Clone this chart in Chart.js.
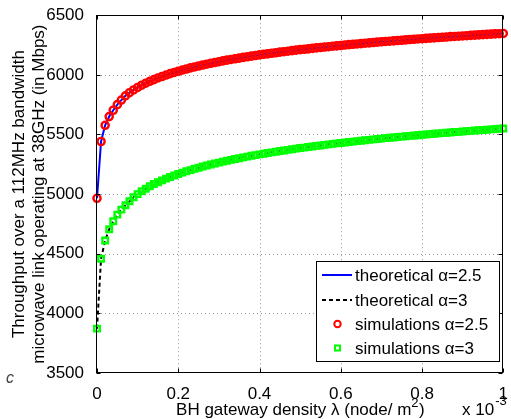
<!DOCTYPE html>
<html><head><meta charset="utf-8">
<script src="https://cdn.jsdelivr.net/npm/chart.js@4/dist/chart.umd.min.js"></script>
<style>html,body{margin:0;padding:0;background:#fff;}</style>
</head><body>
<canvas id="c" width="511" height="419"></canvas>
<script>
// BH gateway density lambda, in units of 1e-3 node/m^2
const lambdaE3 = [
  0.00,0.01,0.02,0.03,0.04,0.05,0.06,0.07,0.08,0.09,
  0.10,0.11,0.12,0.13,0.14,0.15,0.16,0.17,0.18,0.19,
  0.20,0.21,0.22,0.23,0.24,0.25,0.26,0.27,0.28,0.29,
  0.30,0.31,0.32,0.33,0.34,0.35,0.36,0.37,0.38,0.39,
  0.40,0.41,0.42,0.43,0.44,0.45,0.46,0.47,0.48,0.49,
  0.50,0.51,0.52,0.53,0.54,0.55,0.56,0.57,0.58,0.59,
  0.60,0.61,0.62,0.63,0.64,0.65,0.66,0.67,0.68,0.69,
  0.70,0.71,0.72,0.73,0.74,0.75,0.76,0.77,0.78,0.79,
  0.80,0.81,0.82,0.83,0.84,0.85,0.86,0.87,0.88,0.89,
  0.90,0.91,0.92,0.93,0.94,0.95,0.96,0.97,0.98,0.99,
  1.00
];
// throughput (Mbps), alpha = 2.5
const throughputA25 = [
  4965,5441,5577,5650,5703,5750,5788,5824,5850,5873,
  5894,5913,5930,5946,5960,5974,5986,5998,6010,6020,
  6030,6040,6049,6058,6066,6074,6082,6089,6097,6103,
  6110,6117,6123,6129,6135,6140,6146,6151,6157,6162,
  6167,6172,6176,6181,6185,6190,6194,6198,6203,6207,
  6211,6214,6218,6222,6226,6229,6233,6236,6240,6243,
  6246,6250,6253,6256,6259,6262,6265,6268,6271,6274,
  6277,6280,6282,6285,6288,6290,6293,6296,6298,6301,
  6303,6306,6308,6310,6313,6315,6317,6320,6322,6324,
  6326,6328,6331,6333,6335,6337,6339,6341,6343,6345,
  6347
];
// throughput (Mbps), alpha = 3
const throughputA3 = [
  3872,4458,4611,4705,4772,4828,4870,4906,4940,4973,
  5000,5024,5045,5066,5084,5100,5115,5130,5143,5156,
  5168,5180,5191,5201,5212,5221,5231,5240,5248,5256,
  5264,5272,5280,5287,5294,5301,5308,5314,5321,5327,
  5333,5339,5344,5350,5355,5361,5366,5371,5376,5381,
  5386,5390,5395,5399,5404,5408,5413,5417,5421,5425,
  5429,5433,5437,5440,5444,5448,5451,5455,5459,5462,
  5465,5469,5472,5475,5479,5482,5485,5488,5491,5494,
  5497,5500,5503,5506,5509,5511,5514,5517,5520,5522,
  5525,5528,5530,5533,5535,5538,5540,5543,5545,5548,
  5550
];
const seriesLabels = ['theoretical \u03B1=2.5','theoretical \u03B1=3','simulations \u03B1=2.5','simulations \u03B1=3'];
const xTicks = [0,0.2,0.4,0.6,0.8,1];
const yTicks = [3500,4000,4500,5000,5500,6000,6500];
const yTitleLines = ['Throughput over a 112MHz bandwidth','microwave link operating at 38GHz (in Mbps)'];

const FONT = '"Liberation Sans", Arial, Helvetica, sans-serif';
const pts = vals => lambdaE3.map((x,i)=>({x:x, y:vals[i]}));

const decor = {
  id:'decor',
  beforeDatasetsDraw(chart){
    const {ctx, chartArea:a, scales:{x,y}} = chart;
    ctx.save();
    ctx.strokeStyle = '#999999'; ctx.lineWidth = 1; ctx.setLineDash([1,3]);
    xTicks.forEach(v=>{ if(v===0||v===1) return; const px=Math.round(x.getPixelForValue(v))+0.5;
      ctx.beginPath(); ctx.moveTo(px,a.top); ctx.lineTo(px,a.bottom); ctx.stroke(); });
    yTicks.forEach(v=>{ if(v===3500||v===6500) return; const py=Math.round(y.getPixelForValue(v))+0.5;
      ctx.beginPath(); ctx.moveTo(a.left,py); ctx.lineTo(a.right,py); ctx.stroke(); });
    ctx.restore();
  },
  afterDraw(chart){
    const {ctx, chartArea:a, scales:{x,y}} = chart;
    ctx.save();
    ctx.setLineDash([]);
    ctx.strokeStyle='#000'; ctx.lineWidth=1;
    const L=Math.round(a.left)-0.5, R=Math.round(a.right)-0.5, T=Math.round(a.top)+0.5, B=Math.round(a.bottom)-0.5;
    ctx.strokeRect(L,T,R-L,B-T);
    const tl=4;
    ctx.beginPath();
    xTicks.forEach(v=>{ const px=Math.round(x.getPixelForValue(v))+0.5;
      ctx.moveTo(px,B); ctx.lineTo(px,B-tl); ctx.moveTo(px,T); ctx.lineTo(px,T+tl); });
    yTicks.forEach(v=>{ const py=Math.round(y.getPixelForValue(v))+0.5;
      ctx.moveTo(L,py); ctx.lineTo(L+tl,py); ctx.moveTo(R,py); ctx.lineTo(R-tl,py); });
    ctx.stroke();

    ctx.fillStyle='#000';
    // y title (two lines, rotated)
    ctx.font = '17px '+FONT; ctx.textAlign='center'; ctx.textBaseline='alphabetic';
    const cy=(a.top+a.bottom)/2;
    [[23.5,yTitleLines[0]],[43.5,yTitleLines[1]]].forEach(([bx,t])=>{
      ctx.save(); ctx.translate(bx,cy); ctx.rotate(-Math.PI/2); ctx.fillText(t,0,0); ctx.restore(); });

    // x title with superscript
    ctx.textAlign='left';
    const p1='BH gateway density \u03BB (node/ m', p2=')';
    ctx.font='17px '+FONT; const w1=ctx.measureText(p1).width, w3=ctx.measureText(p2).width;
    ctx.font='13px '+FONT; const w2=ctx.measureText('2').width;
    const tot=w1+w2+w3; let sx=(a.left+a.right)/2 - tot/2; const by=415;
    ctx.font='17px '+FONT; ctx.fillText(p1,sx,by);
    ctx.font='13px '+FONT; ctx.fillText('2',sx+w1,by-8);
    ctx.font='17px '+FONT; ctx.fillText(p2,sx+w1+w2+0.5,by);

    // exponent label
    ctx.font='17px '+FONT; ctx.fillText('x 10',462,by);
    const we=ctx.measureText('x 10').width;
    ctx.font='13px '+FONT; ctx.fillText('-3',462+we+1,by-10);

    // stray glyph at lower-left
    ctx.font='italic 16px '+FONT; ctx.fillStyle='#444'; ctx.fillText('c',6,383);

    // legend
    ctx.fillStyle='#fff'; ctx.fillRect(316.5,261.5,183,100);
    ctx.strokeStyle='#000'; ctx.lineWidth=1; ctx.strokeRect(316.5,261.5,183,100);
    const rows=[275,300,324,348];
    ctx.lineWidth=2; ctx.strokeStyle='#0000ff';
    ctx.beginPath(); ctx.moveTo(322,rows[0]); ctx.lineTo(352,rows[0]); ctx.stroke();
    ctx.strokeStyle='#000'; ctx.lineWidth=2; ctx.setLineDash([4,3]);
    ctx.beginPath(); ctx.moveTo(322,rows[1]); ctx.lineTo(352,rows[1]); ctx.stroke();
    ctx.setLineDash([]);
    ctx.strokeStyle='#ff0000'; ctx.lineWidth=2;
    ctx.beginPath(); ctx.arc(337.5,rows[2],3.2,0,Math.PI*2); ctx.stroke();
    ctx.strokeStyle='#00ff00'; ctx.lineWidth=2;
    ctx.strokeRect(335,rows[3]-2.5,5,5);
    ctx.fillStyle='#000'; ctx.font='17px '+FONT; ctx.textBaseline='middle'; ctx.textAlign='left';
    seriesLabels.forEach((t,i)=>ctx.fillText(t,355,rows[i]+1));
    ctx.restore();
  }
};

new Chart(document.getElementById('c'), {
  type:'line',
  data:{ datasets:[
    {label:seriesLabels[0], data:pts(throughputA25), borderColor:'#0000ff', borderWidth:2, pointRadius:0, order:2, fill:false},
    {label:seriesLabels[1], data:pts(throughputA3), borderColor:'#000000', borderWidth:2, borderDash:[4,3], pointRadius:0, order:2, fill:false},
    {label:seriesLabels[2], data:pts(throughputA25), showLine:false, pointStyle:'circle', pointRadius:3.6, pointBorderWidth:2.4,
      borderColor:'#ff0000', pointBorderColor:'#ff0000', pointBackgroundColor:'rgba(0,0,0,0)', backgroundColor:'rgba(0,0,0,0)', order:1, clip:false},
    {label:seriesLabels[3], data:pts(throughputA3), showLine:false, pointStyle:'rect', pointRadius:3.9, pointBorderWidth:2.4,
      borderColor:'#00ff00', pointBorderColor:'#00ff00', pointBackgroundColor:'rgba(0,0,0,0)', backgroundColor:'rgba(0,0,0,0)', order:1, clip:false}
  ]},
  options:{
    responsive:false, animation:false, devicePixelRatio:1,
    layout:{padding:{top:14,right:6,left:0,bottom:0}},
    plugins:{legend:{display:false}, tooltip:{enabled:false}},
    elements:{line:{tension:0}},
    scales:{
      x:{type:'linear', min:0, max:1,
        afterFit(s){ s.height=46; },
        afterBuildTicks(s){ s.ticks = xTicks.map(v=>({value:v})); },
        grid:{display:false}, border:{display:false},
        ticks:{font:{size:17,family:FONT}, color:'#000', padding:3, maxRotation:0,
          callback:v=>String(Math.round(v*10)/10)}},
      y:{type:'linear', min:3500, max:6500,
        afterFit(s){ s.width=97; },
        afterBuildTicks(s){ s.ticks = yTicks.map(v=>({value:v})); },
        grid:{display:false}, border:{display:false},
        ticks:{font:{size:17,family:FONT}, color:'#000', padding:5, callback:v=>String(v)}}
    }
  },
  plugins:[decor]
});
</script>
</body></html>
